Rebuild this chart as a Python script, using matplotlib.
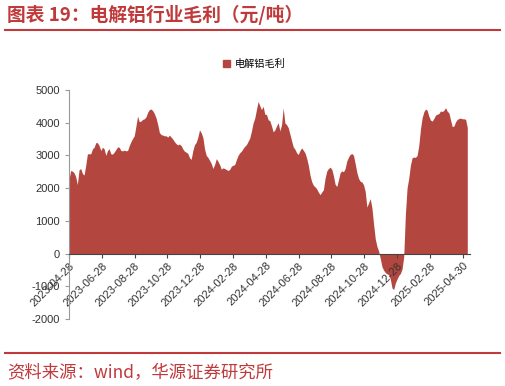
import pandas as pd
import matplotlib.pyplot as plt
from matplotlib.patches import Patch
from matplotlib.lines import Line2D

plt.rcParams['font.family'] = ['Liberation Sans', 'Noto Sans CJK SC', 'DejaVu Sans']
plt.rcParams['axes.unicode_minus'] = False

RED = '#C0393B'
FILL = '#B3473F'

# electrolytic aluminium gross margin (yuan/ton)
seg1 = [2260, 2540, 2520, 2470, 2350, 2110, 2560, 2600, 2450, 2400,
        2700, 3050, 3050, 3050, 3200, 3250, 3390, 3390, 3300, 3150,
        3250, 3200, 3000, 3150, 3200, 3050, 3040, 3100, 3180, 3260,
        3250, 3150, 3140, 3160, 3140, 3150, 3300, 3420, 3520, 3600,
        3900, 4200, 4030, 4050, 4100, 4120, 4180, 4320, 4400, 4420,
        4370, 4280, 4150, 3950, 3700, 3640, 3620, 3600]
seg2 = [3600, 3560, 3620, 3560, 3500, 3420, 3360, 3320, 3350, 3300,
        3200, 3130, 3100, 3060, 2930, 2880, 3150, 3330, 3400, 3560,
        3780, 3690, 3550, 3200, 3000, 2940, 2850, 2750, 2600, 2720,
        2900, 2820, 2720, 2580, 2620, 2600, 2570, 2540, 2570, 2670,
        2700, 2720, 2870, 3000, 3080, 3130, 3210, 3280, 3330, 3430,
        3530, 3740, 3990, 4140, 4400, 4650, 4520, 4400, 4500, 4260]
seg3 = [4250, 4090, 4060, 3900, 3720, 3780, 3900, 4000, 3750, 3940,
        4450, 3990, 3940, 3850, 3650, 3450, 3260, 3190, 3080, 3030,
        3150, 3230, 3160, 3080, 2920, 2700, 2400, 2200, 2090, 2040,
        1980, 1880, 1800, 1880, 1950, 2300, 2520, 2600, 2640, 2580,
        2380, 2120, 2050, 2250, 2470, 2530, 2500, 2600, 2830, 2950,
        3030, 3060, 3000, 2750, 2480, 2300, 2210, 2190, 2100, 1900]
seg4 = [1420, 1550, 1680, 1400, 900, 450, 220, 80, -150, -400,
        -510, -580, -620, -640, -780, -1050, -1100, -900, -780, -670,
        -610, -480, -100, 1200, 2000, 2300, 2700, 2930, 2950, 2940,
        3000, 3300, 3800, 4150, 4330, 4420, 4380, 4200, 4080, 4050,
        4130, 4230, 4260, 4280, 4360, 4340, 4380, 4460, 4350, 4300,
        4080, 3880, 3900, 4030, 4100, 4130, 4140, 4120, 4120, 4100,
        3850]
margin = seg1 + seg2 + seg3 + seg4
dates = pd.date_range("2023-04-28", "2025-05-08", periods=len(margin))

tick_labels = ["2023-04-28", "2023-06-28", "2023-08-28", "2023-10-28",
               "2023-12-28", "2024-02-28", "2024-04-28", "2024-06-28",
               "2024-08-28", "2024-10-28", "2024-12-28", "2025-02-28",
               "2025-04-30"]
y_ticks = [-2000, -1000, 0, 1000, 2000, 3000, 4000, 5000]

fig = plt.figure(figsize=(5.06, 3.86), dpi=100)
ax = fig.add_axes([69 / 506, 1 - 319 / 386, 401 / 506, 229 / 386])

ax.fill_between(dates, margin, 0, color=FILL, linewidth=0)
ax.set_xlim(pd.Timestamp("2023-04-28"), pd.Timestamp("2025-05-13"))
ax.set_ylim(-2000, 5000)

ax.spines['top'].set_visible(False)
ax.spines['right'].set_visible(False)
ax.spines['bottom'].set_position(('data', 0))
ax.spines['bottom'].set_color('#444444')
ax.spines['left'].set_color('#999999')
ax.tick_params(axis='y', labelsize=8, colors='#333333', length=3, color='#999999')
ax.tick_params(axis='x', labelsize=8, colors='#333333', length=3, color='#444444', pad=2)

ax.set_yticks(y_ticks)
ax.set_yticklabels([str(v) for v in y_ticks])
ax.set_xticks(pd.to_datetime(tick_labels))
ax.set_xticklabels(tick_labels)
plt.setp(ax.get_xticklabels(), rotation=45, ha='right', rotation_mode='anchor')

fig.legend(handles=[Patch(color=FILL, label='电解铝毛利')], loc='center',
           bbox_to_anchor=(254 / 506, 1 - 64 / 386), frameon=False,
           handlelength=0.7, handleheight=0.7, handletextpad=0.4,
           prop={'family': ['Noto Sans CJK SC'], 'size': 7.3})

fig.text(7 / 506, 1 - 15 / 386, '图表 19：电解铝行业毛利（元/吨）', color=RED,
         fontsize=13.5, fontweight='bold', family=['Noto Sans CJK SC', 'DejaVu Sans'],
         va='center', ha='left')
fig.text(7 / 506, 1 - 373 / 386, '资料来源：wind，华源证券研究所', color=RED,
         fontsize=12.5, family=['Noto Sans CJK SC', 'DejaVu Sans'],
         va='center', ha='left')

fig.add_artist(Line2D([5 / 506, 500 / 506], [1 - 30 / 386] * 2,
                      transform=fig.transFigure, color=RED, lw=1.5))
fig.add_artist(Line2D([5 / 506, 500 / 506], [1 - 353 / 386] * 2,
                      transform=fig.transFigure, color=RED, lw=1.5))

fig.savefig("out.png", dpi=100)
